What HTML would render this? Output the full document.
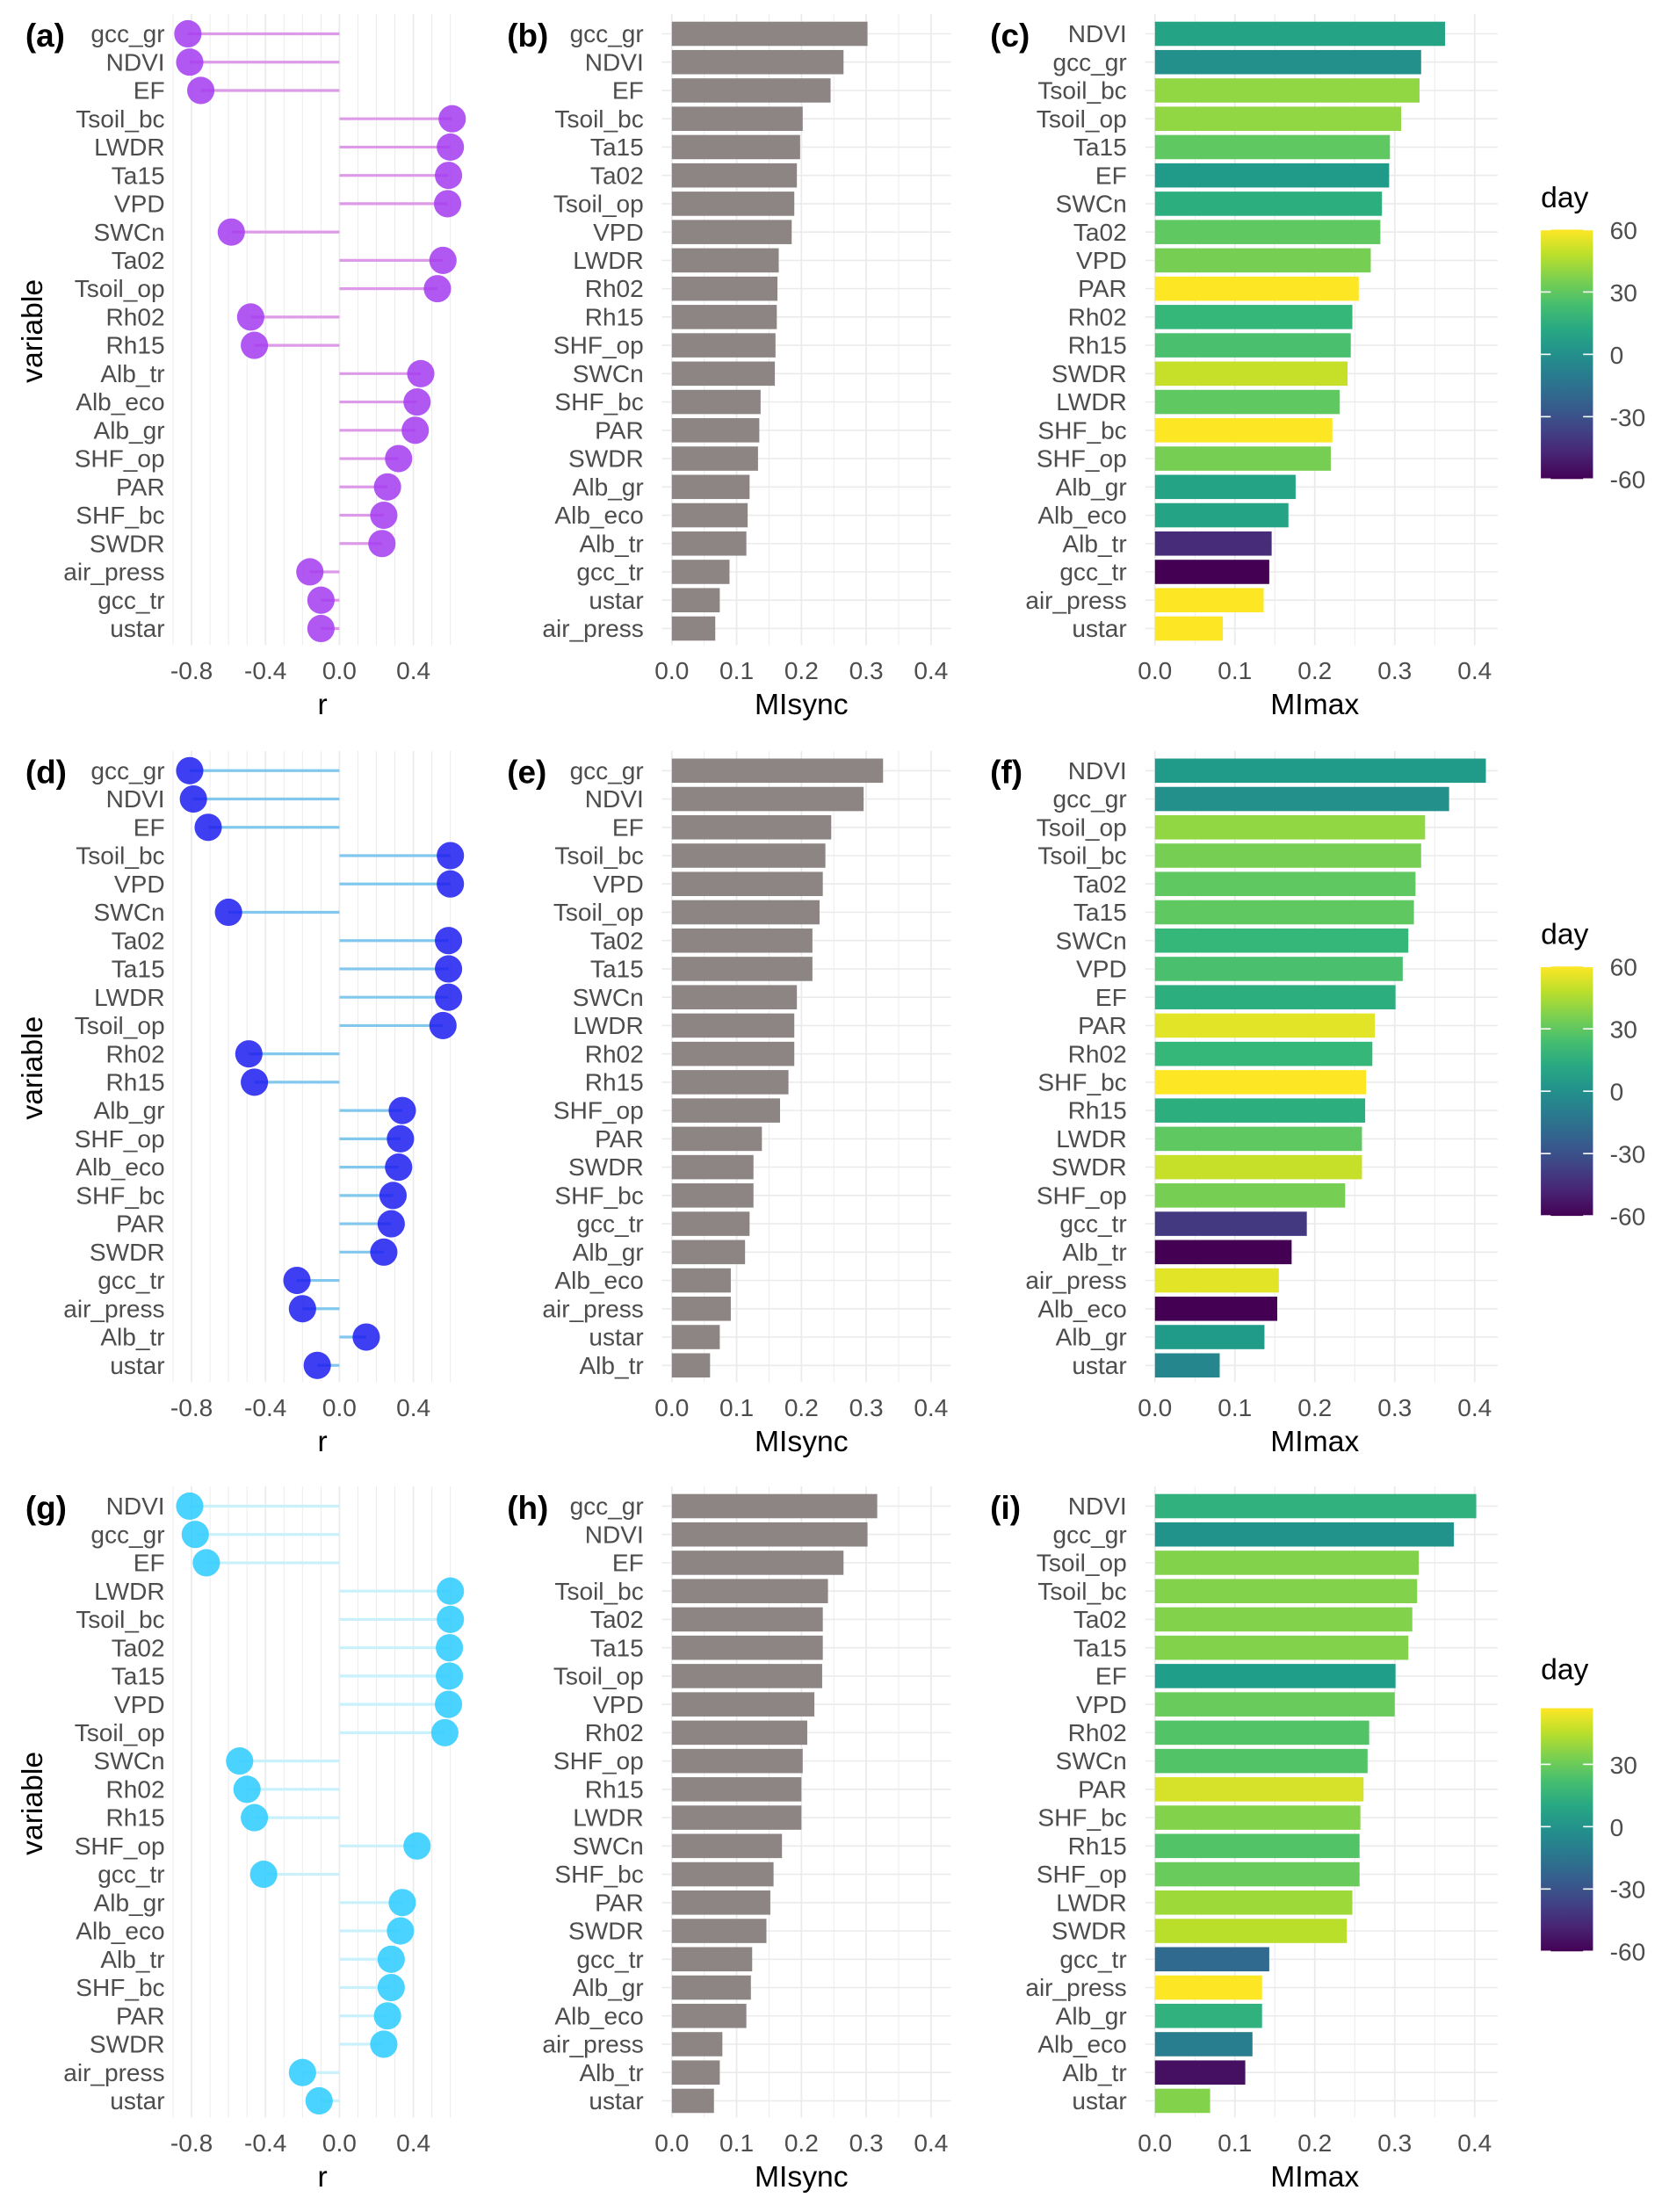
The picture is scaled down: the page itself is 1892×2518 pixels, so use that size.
<!DOCTYPE html>
<html><head><meta charset="utf-8"><style>
html,body{margin:0;padding:0;background:#fff;}
svg{display:block;font-family:"Liberation Sans",sans-serif;}
</style></head><body>
<svg id="fig" width="1892" height="2518" viewBox="0 0 1180 1570" preserveAspectRatio="none" xmlns="http://www.w3.org/2000/svg"></svg>
<script>
// ---- data ----
const rVarsA = ["gcc_gr","NDVI","EF","Tsoil_bc","LWDR","Ta15","VPD","SWCn","Ta02","Tsoil_op","Rh02","Rh15","Alb_tr","Alb_eco","Alb_gr","SHF_op","PAR","SHF_bc","SWDR","air_press","gcc_tr","ustar"];
const rValsA = [-0.82,-0.81,-0.75,0.61,0.60,0.59,0.585,-0.585,0.56,0.53,-0.48,-0.46,0.44,0.42,0.41,0.32,0.26,0.24,0.23,-0.16,-0.10,-0.10];
const rVarsD = ["gcc_gr","NDVI","EF","Tsoil_bc","VPD","SWCn","Ta02","Ta15","LWDR","Tsoil_op","Rh02","Rh15","Alb_gr","SHF_op","Alb_eco","SHF_bc","PAR","SWDR","gcc_tr","air_press","Alb_tr","ustar"];
const rValsD = [-0.81,-0.79,-0.71,0.60,0.60,-0.60,0.59,0.59,0.59,0.56,-0.49,-0.46,0.34,0.33,0.32,0.29,0.28,0.24,-0.23,-0.20,0.145,-0.12];
const rVarsG = ["NDVI","gcc_gr","EF","LWDR","Tsoil_bc","Ta02","Ta15","VPD","Tsoil_op","SWCn","Rh02","Rh15","SHF_op","gcc_tr","Alb_gr","Alb_eco","Alb_tr","SHF_bc","PAR","SWDR","air_press","ustar"];
const rValsG = [-0.81,-0.78,-0.72,0.60,0.60,0.595,0.595,0.59,0.57,-0.54,-0.50,-0.46,0.42,-0.41,0.34,0.33,0.28,0.28,0.26,0.24,-0.20,-0.11];

const syncVarsB = ["gcc_gr","NDVI","EF","Tsoil_bc","Ta15","Ta02","Tsoil_op","VPD","LWDR","Rh02","Rh15","SHF_op","SWCn","SHF_bc","PAR","SWDR","Alb_gr","Alb_eco","Alb_tr","gcc_tr","ustar","air_press"];
const syncValsB = [0.302,0.265,0.245,0.202,0.198,0.193,0.189,0.185,0.165,0.163,0.162,0.160,0.159,0.137,0.135,0.133,0.120,0.117,0.115,0.089,0.074,0.067];
const syncVarsE = ["gcc_gr","NDVI","EF","Tsoil_bc","VPD","Tsoil_op","Ta02","Ta15","SWCn","LWDR","Rh02","Rh15","SHF_op","PAR","SWDR","SHF_bc","gcc_tr","Alb_gr","Alb_eco","air_press","ustar","Alb_tr"];
const syncValsE = [0.326,0.296,0.246,0.237,0.233,0.228,0.217,0.217,0.193,0.189,0.189,0.180,0.167,0.139,0.126,0.126,0.120,0.113,0.091,0.091,0.074,0.059];
const syncVarsH = ["gcc_gr","NDVI","EF","Tsoil_bc","Ta02","Ta15","Tsoil_op","VPD","Rh02","SHF_op","Rh15","LWDR","SWCn","SHF_bc","PAR","SWDR","gcc_tr","Alb_gr","Alb_eco","air_press","Alb_tr","ustar"];
const syncValsH = [0.317,0.302,0.265,0.241,0.233,0.233,0.232,0.220,0.209,0.202,0.200,0.200,0.170,0.157,0.152,0.146,0.124,0.122,0.115,0.078,0.074,0.065];

const maxVarsC = ["NDVI","gcc_gr","Tsoil_bc","Tsoil_op","Ta15","EF","SWCn","Ta02","VPD","PAR","Rh02","Rh15","SWDR","LWDR","SHF_bc","SHF_op","Alb_gr","Alb_eco","Alb_tr","gcc_tr","air_press","ustar"];
const maxValsC = [0.363,0.333,0.331,0.308,0.294,0.293,0.284,0.282,0.270,0.255,0.247,0.245,0.241,0.231,0.222,0.220,0.176,0.167,0.146,0.143,0.136,0.085];
const maxDaysC = [10,0,40,40,30,5,15,30,35,60,20,25,50,30,60,35,10,10,-45,-60,60,60];
const maxVarsF = ["NDVI","gcc_gr","Tsoil_op","Tsoil_bc","Ta02","Ta15","SWCn","VPD","EF","PAR","Rh02","SHF_bc","Rh15","LWDR","SWDR","SHF_op","gcc_tr","Alb_tr","air_press","Alb_eco","Alb_gr","ustar"];
const maxValsF = [0.414,0.368,0.338,0.333,0.326,0.324,0.317,0.310,0.301,0.275,0.272,0.264,0.263,0.259,0.259,0.238,0.190,0.171,0.155,0.153,0.137,0.081];
const maxDaysF = [5,0,40,35,30,30,20,25,15,55,20,60,15,30,50,35,-40,-60,55,-60,5,-5];
const maxVarsI = ["NDVI","gcc_gr","Tsoil_op","Tsoil_bc","Ta02","Ta15","EF","VPD","Rh02","SWCn","PAR","SHF_bc","Rh15","SHF_op","LWDR","SWDR","gcc_tr","air_press","Alb_gr","Alb_eco","Alb_tr","ustar"];
const maxValsI = [0.402,0.374,0.330,0.328,0.322,0.317,0.301,0.300,0.268,0.266,0.261,0.257,0.256,0.256,0.247,0.240,0.143,0.134,0.134,0.122,0.113,0.069];
const maxDaysI = [15,0,35,35,35,35,5,30,25,25,50,35,25,30,40,45,-20,57,15,-10,-55,35];

const rTicks = [-0.8,-0.4,0.0,0.4];
const rTickLabels = ["-0.8","-0.4","0.0","0.4"];
const miTicks = [0,0.1,0.2,0.3,0.4];
const miTickLabels = ["0.0","0.1","0.2","0.3","0.4"];
const cbTicks = [60,30,0,-30,-60];
const cbTickLabels = ["60","30","0","-30","-60"];

// ---- helpers ----
const NS="http://www.w3.org/2000/svg";
const svg=document.getElementById('fig');
const FS=17.5;
function mk(tag,attrs,parent,name,txt){
  const e=document.createElementNS(NS,tag);
  for(const k in attrs) e.setAttribute(k,attrs[k]);
  
  
  if(txt!==undefined) e.textContent=txt;
  (parent||svg).appendChild(e);
  return e;
}
const VIR=[[68,1,84],[72,40,120],[62,74,137],[49,104,142],[38,130,142],[31,158,137],[53,183,121],[109,205,89],[180,222,44],[253,231,37]];
function viridis(t){t=Math.max(0,Math.min(1,t));const p=t*(VIR.length-1);const i=Math.min(Math.floor(p),VIR.length-2);const f=p-i;
  const c=VIR[i].map((v,k)=>Math.round(v+(VIR[i+1][k]-v)*f));return `rgb(${c[0]},${c[1]},${c[2]})`;}
const ROW0=24, STEP=20.1;
const rowY=(i,off)=>off+ROW0+i*STEP;

function lollipop(vars,vals,off,ptCol,segCol,tag){
  const g=mk('g',{},svg,'lollipop-panel-'+tag);
  const xs=v=>241+v*262.5/2;
  for(let v=-0.9;v<=0.61;v+=0.1){
    const vv=Math.round(v*10)/10;
    mk('line',{x1:xs(vv),x2:xs(vv),y1:off+10,y2:off+458,stroke:'#ebebeb','stroke-width':Math.abs(vv*5-Math.round(vv*5))<1e-6 && Math.round(vv*5)%2===0?1.1:0.6},g,'grid-line');
  }
  vars.forEach((n,i)=>{
    const y=rowY(i,off);
    mk('line',{x1:xs(0),x2:xs(vals[i]),y1:y,y2:y,stroke:segCol,'stroke-width':2},g,'lollipop-stem-'+n);
    mk('circle',{cx:xs(vals[i]),cy:y,r:9.7,fill:ptCol,'fill-opacity':0.85},g,'lollipop-point-'+n);
    mk('text',{x:117,y:y+6,'text-anchor':'end','font-size':FS,fill:'#4d4d4d'},g,'y-label-'+n,n);
  });
  rTicks.forEach((t,i)=>mk('text',{x:xs(t),y:off+482,'text-anchor':'middle','font-size':FS,fill:'#4d4d4d'},g,'x-tick-label',rTickLabels[i]));
  mk('text',{x:229,y:off+507,'text-anchor':'middle','font-size':21,fill:'#000'},g,'x-axis-title','r');
  mk('text',{x:30,y:off+235,'text-anchor':'middle','font-size':21,fill:'#000',transform:`rotate(-90 30 ${off+235})`},g,'y-axis-title','variable');
  mk('text',{x:18,y:off+33,'font-size':23,'font-weight':'bold',fill:'#000'},g,'panel-label','('+tag+')');
}
function bars(vars,vals,off,x0,title,tag,days,cmax){
  const g=mk('g',{},svg,'bar-panel-'+tag);
  const k=tag==='b'||tag==='e'||tag==='h'?460:567.5;
  const xs=v=>x0+v*k;
  const right=xs(0.42)+5;
  vars.forEach((n,i)=>{const y=rowY(i,off);mk('line',{x1:x0-7,x2:right,y1:y,y2:y,stroke:'#ebebeb','stroke-width':1},g,'grid-line');});
  for(let j=0;j<=8;j++){const v=j*0.05;mk('line',{x1:xs(v),x2:xs(v),y1:off+10,y2:off+458,stroke:'#ebebeb','stroke-width':j%2?0.6:1.1},g,'grid-line');}
  vars.forEach((n,i)=>{
    const y=rowY(i,off);
    const fill=days?viridis((days[i]+60)/(cmax+60)):'#8c8583';
    mk('rect',{x:x0,y:y-8.6,width:xs(vals[i])-x0,height:17.2,fill:fill},g,'bar-'+n);
    mk('text',{x:x0-20,y:y+6,'text-anchor':'end','font-size':FS,fill:'#4d4d4d'},g,'y-label-'+n,n);
  });
  miTicks.forEach((t,i)=>mk('text',{x:xs(t),y:off+482,'text-anchor':'middle','font-size':FS,fill:'#4d4d4d'},g,'x-tick-label',miTickLabels[i]));
  mk('text',{x:xs(0.2),y:off+507,'text-anchor':'middle','font-size':21,fill:'#000'},g,'x-axis-title',title);
  mk('text',{x:x0-117,y:off+33,'font-size':23,'font-weight':'bold',fill:'#000'},g,'panel-label','('+tag+')');
}
function colorbar(off,top,cmax){
  const g=mk('g',{},svg,'colorbar');
  const y60=off+340, per=177/120;
  const yTop=y60-(cmax+60)*per;
  const defs=mk('defs',{},g,'defs');
  const lg=mk('linearGradient',{id:'cg'+off,x1:0,y1:1,x2:0,y2:0},defs,'gradient');
  for(let i=0;i<=10;i++) mk('stop',{offset:i/10,'stop-color':viridis(i/10)},lg,'stop');
  mk('rect',{x:1094,y:yTop,width:37,height:y60-yTop,fill:`url(#cg${off})`},g,'colorbar-ramp');
  cbTicks.forEach((t,i)=>{ if(t>cmax) return; const y=y60-(t+60)*per;
    mk('line',{x1:1094,x2:1101,y1:y,y2:y,stroke:'#fff','stroke-width':1},g,'colorbar-tick');
    mk('line',{x1:1124,x2:1131,y1:y,y2:y,stroke:'#fff','stroke-width':1},g,'colorbar-tick');
    mk('text',{x:1143,y:y+6.5,'font-size':FS,fill:'#4d4d4d'},g,'colorbar-label',cbTickLabels[i]);});
  mk('text',{x:1094,y:off+147,'font-size':21,fill:'#000'},g,'colorbar-title','day');
}
lollipop(rVarsA,rValsA,0,'#a53bf0','#dd9ae8','a');
lollipop(rVarsD,rValsD,523,'#1c1cf0','#82c8ee','d');
lollipop(rVarsG,rValsG,1045,'#2ccbff','#c9f1fb','g');
bars(syncVarsB,syncValsB,0,477,'MIsync','b');
bars(syncVarsE,syncValsE,523,477,'MIsync','e');
bars(syncVarsH,syncValsH,1045,477,'MIsync','h');
bars(maxVarsC,maxValsC,0,820,'MImax','c',maxDaysC,60);
bars(maxVarsF,maxValsF,523,820,'MImax','f',maxDaysF,60);
bars(maxVarsI,maxValsI,1045,820,'MImax','i',maxDaysI,57);
colorbar(0,157,60);
colorbar(523,157,60);
colorbar(1045,157,57);
</script>
</body></html>
